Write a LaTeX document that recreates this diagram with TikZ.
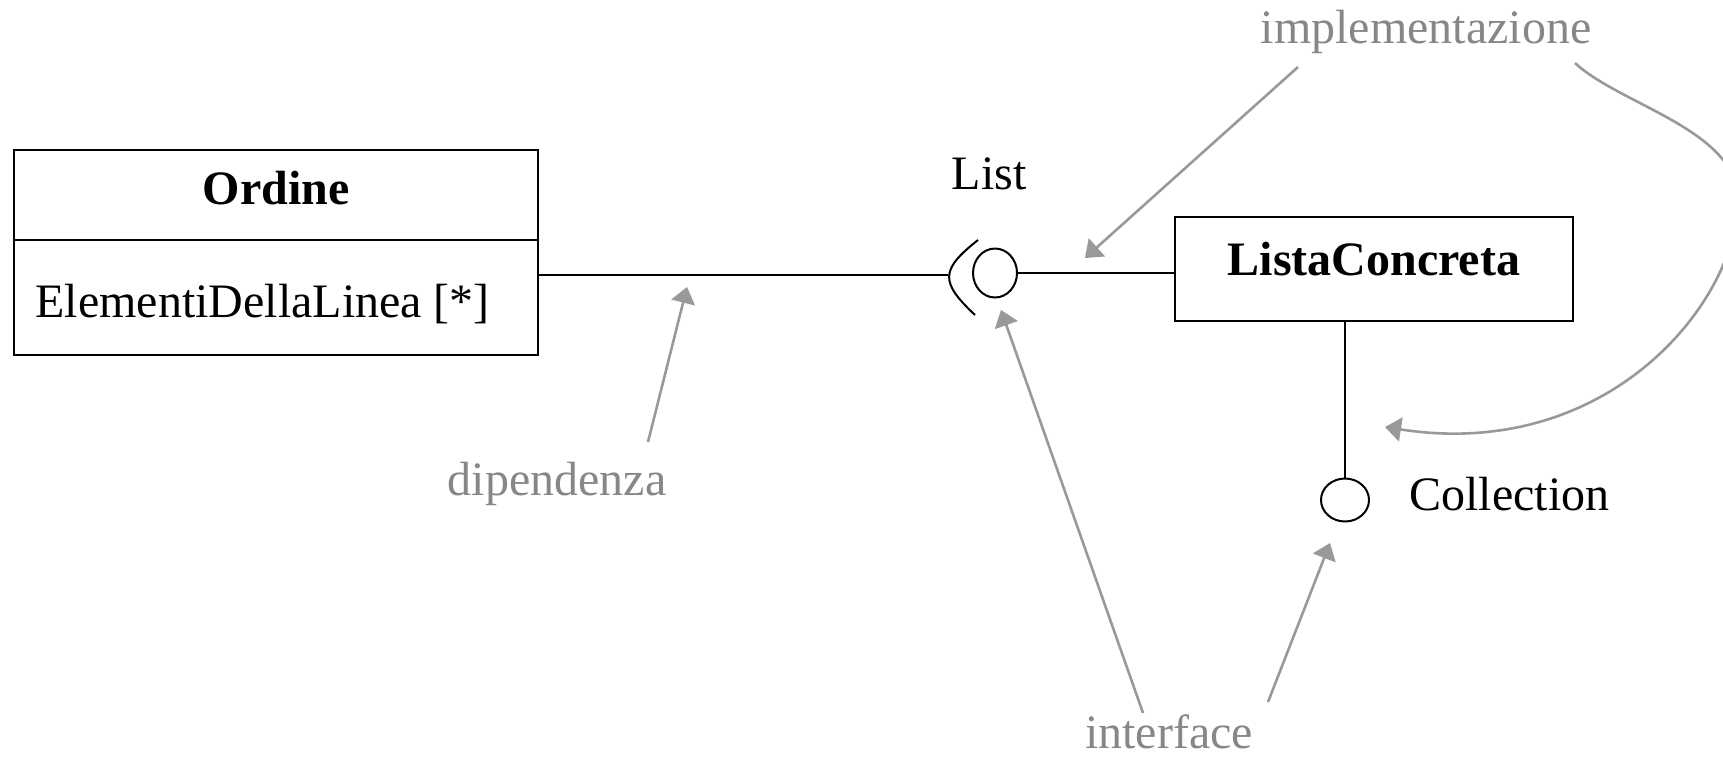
\documentclass[tikz,border=0pt]{standalone}
\usepackage{fontspec}
\setmainfont{Liberation Serif}
\usetikzlibrary{arrows.meta,shapes.geometric}
\definecolor{notegray}{gray}{0.53}
\definecolor{arrowgray}{gray}{0.6}
\begin{document}
\begin{tikzpicture}[x=0.5pt,y=-0.5pt,
  every node/.style={font=\fontsize{24}{28}\selectfont, inner sep=0pt},
  umlbox/.style={draw, line width=1pt, inner sep=0pt},
  txt/.style={anchor=base},
  boldtxt/.style={anchor=base, font=\fontsize{24}{28}\selectfont\bfseries},
  notetext/.style={anchor=base, text=notegray},
  note/.style={draw=arrowgray, line width=1.3pt, -{Triangle[length=8pt,width=12pt]}},
  ball/.style={ellipse, draw, line width=1pt, inner sep=0pt},
  wire/.style={line width=1pt}]
\useasboundingbox (0,0) rectangle (1723,756);

% Ordine class
\node[umlbox, minimum width=262pt, minimum height=102.5pt] (ordine) at (276,252.5) {};
\coordinate (divy) at (0,240);
\draw[wire] (ordine.west |- divy) -- (ordine.east |- divy);
\node[boldtxt] (ordname) at (276,204) {Ordine};
\node[txt, anchor=base west] (ordattr) at (35,317) {ElementiDellaLinea [*]};

% ListaConcreta class
\node[umlbox, minimum width=199pt, minimum height=52pt] (lista) at (1374,269) {};
\node[boldtxt] (listaname) at (1374,275) {ListaConcreta};

% provided interfaces (balls)
\node[ball, minimum width=22pt, minimum height=24.5pt] (listball) at (995,273) {};
\node[txt] (listname) at (989,189) {List};
\node[ball, minimum width=24pt, minimum height=21.5pt] (collball) at (1345,500) {};
\node[txt, anchor=base west] (collname) at (1409,510) {Collection};

% required interface (socket)
\coordinate (socktop) at (978,240);
\coordinate (sockmid) at (948,275);
\coordinate (sockbot) at (975,315);
\draw[wire] (socktop) .. controls (940,270) and (940,282) .. (sockbot);

% connectors
\draw[wire] (ordine.east |- sockmid) -- (sockmid);
\draw[wire] (listball.east) -- (lista.west |- listball.east);
\draw[wire] (lista.south -| collball.north) -- (collball.north);

% annotations
\node[notetext] (dip) at (557,495) {dipendenza};
\node[notetext] (impl) at (1426,43) {implementazione};
\node[notetext] (iface) at (1169,748) {interface};

\coordinate (dipfrom) at (648,442);
\coordinate (dipto) at (687,287);
\coordinate (implfromA) at (1298,67);
\coordinate (impltoA) at (1085,258);
\coordinate (implfromB) at (1575,63);
\coordinate (impltoB) at (1385,427);
\coordinate (ifacefromA) at (1143,713);
\coordinate (ifacetoA) at (1001,310);
\coordinate (ifacefromB) at (1268,702);
\coordinate (ifacetoB) at (1330,543);

\draw[note] (dipfrom) -- (dipto);
\draw[note] (implfromA) -- (impltoA);
\draw[note] (implfromB) .. controls (1620,105) and (1738,130) .. (1738,200)
  .. controls (1738,300) and (1610,462) .. (impltoB);
\draw[note] (ifacefromA) -- (ifacetoA);
\draw[note] (ifacefromB) -- (ifacetoB);
\end{tikzpicture}
\end{document}
